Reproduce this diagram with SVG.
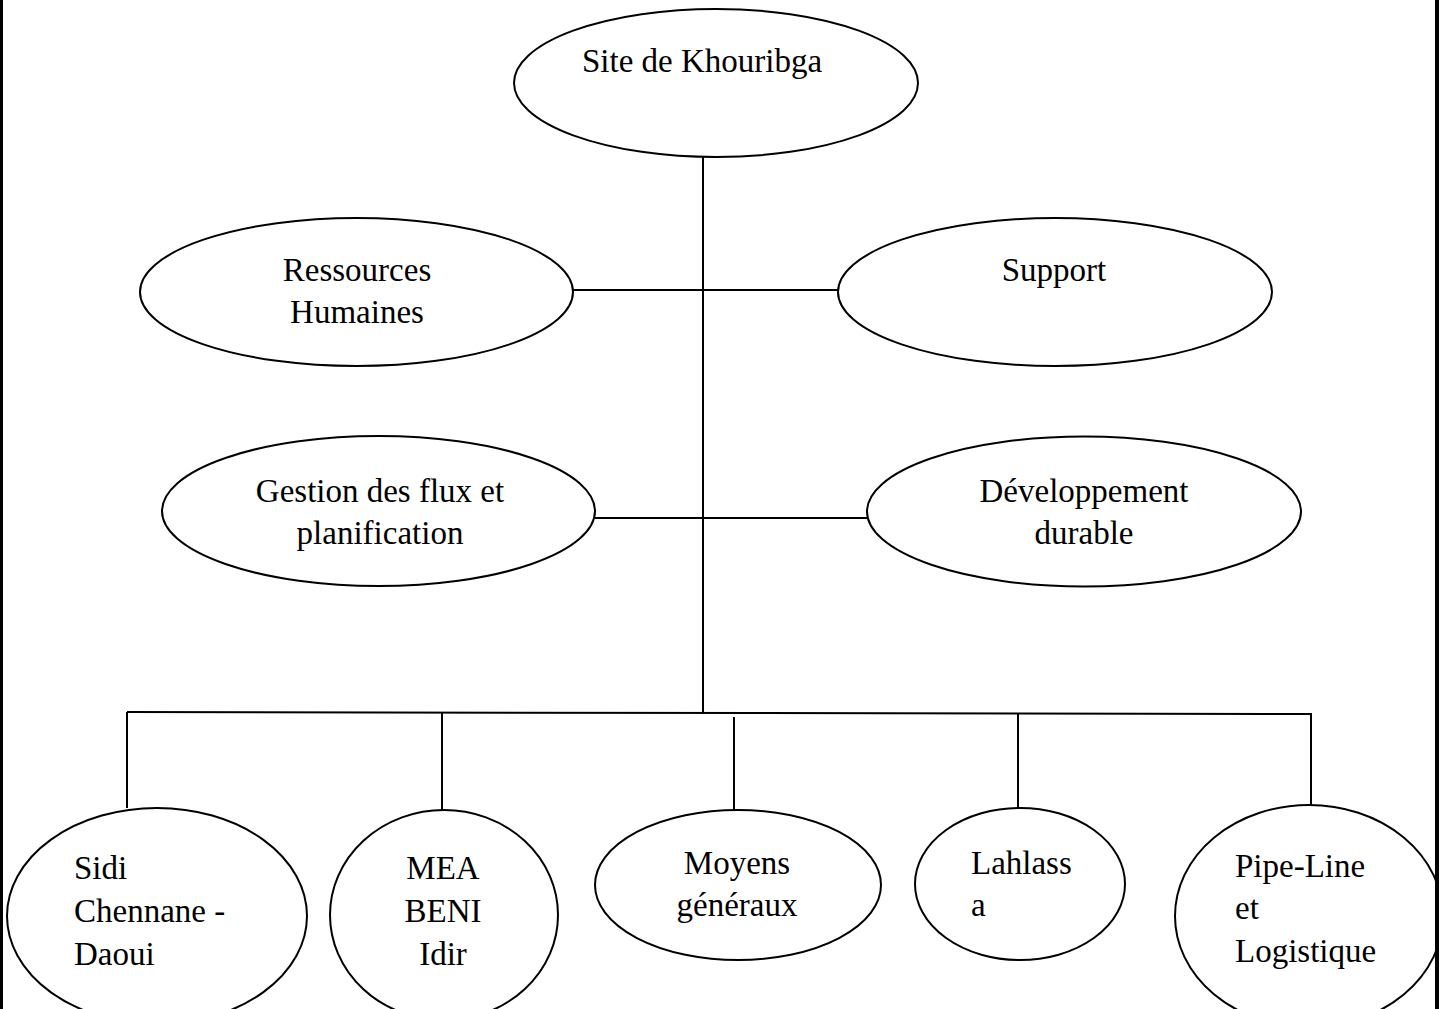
<svg xmlns="http://www.w3.org/2000/svg" width="1445" height="1009" viewBox="0 0 1445 1009">
  <style>
    .node ellipse { fill: #ffffff; stroke: #000000; stroke-width: 2; }
    .node text { font-family: "Liberation Serif", "Times New Roman", serif; font-size: 33px; fill: #000000; }
    .c { text-anchor: middle; }
    #connectors line { stroke: #000000; stroke-width: 2; fill: none; }
    .frame { fill: #000000; }
  </style>
  <rect width="1445" height="1009" fill="#ffffff"/>

  <!-- connectors -->
  <g id="connectors">
    <line x1="703" y1="157" x2="703" y2="714"/>
    <line x1="573" y1="290" x2="839" y2="290"/>
    <line x1="595" y1="518" x2="869" y2="518"/>
    <line x1="127" y1="712" x2="1312" y2="714"/>
    <line x1="127" y1="712" x2="127" y2="808"/>
    <line x1="442" y1="713" x2="442" y2="810"/>
    <line x1="734" y1="717" x2="734" y2="810"/>
    <line x1="1018" y1="713" x2="1018" y2="808"/>
    <line x1="1311" y1="713" x2="1311" y2="805"/>
  </g>

  <!-- top -->
  <g id="site-khouribga" class="node">
    <ellipse cx="716" cy="83" rx="202" ry="74"/>
    <text class="c" x="702" y="72">Site de Khouribga</text>
  </g>

  <!-- first row -->
  <g id="ressources-humaines" class="node">
    <ellipse cx="356.5" cy="292" rx="216.5" ry="74"/>
    <text class="c" x="357" y="281">Ressources</text>
    <text class="c" x="357" y="323">Humaines</text>
  </g>
  <g id="support" class="node">
    <ellipse cx="1055" cy="292" rx="217" ry="74"/>
    <text class="c" x="1054" y="281">Support</text>
  </g>

  <!-- second row -->
  <g id="gestion-flux" class="node">
    <ellipse cx="378.5" cy="511" rx="216.5" ry="75"/>
    <text class="c" x="380" y="502">Gestion des flux et</text>
    <text class="c" x="380" y="544">planification</text>
  </g>
  <g id="developpement-durable" class="node">
    <ellipse cx="1084" cy="511.5" rx="217" ry="75"/>
    <text class="c" x="1084" y="502">Développement</text>
    <text class="c" x="1084" y="544">durable</text>
  </g>

  <!-- bottom row -->
  <g id="sidi-chennane" class="node">
    <ellipse cx="157" cy="916" rx="150" ry="108"/>
    <text x="74" y="879">Sidi</text>
    <text x="74" y="922">Chennane -</text>
    <text x="74" y="965">Daoui</text>
  </g>
  <g id="mea-beni-idir" class="node">
    <ellipse cx="444" cy="915" rx="114" ry="105"/>
    <text class="c" x="443" y="879">MEA</text>
    <text class="c" x="443" y="922">BENI</text>
    <text class="c" x="443" y="965">Idir</text>
  </g>
  <g id="moyens-generaux" class="node">
    <ellipse cx="738" cy="885" rx="143" ry="75"/>
    <text class="c" x="737" y="874">Moyens</text>
    <text class="c" x="737" y="916">généraux</text>
  </g>
  <g id="lahlassa" class="node">
    <ellipse cx="1020" cy="884" rx="105" ry="76"/>
    <text x="971" y="874">Lahlass</text>
    <text x="971" y="916">a</text>
  </g>
  <g id="pipe-line" class="node">
    <ellipse cx="1309" cy="916" rx="134" ry="111"/>
    <text x="1235" y="877">Pipe-Line</text>
    <text x="1235" y="919">et</text>
    <text x="1235" y="962">Logistique</text>
  </g>

  <!-- page frame edges -->
  <rect class="frame" x="0" y="0" width="3" height="1009"/>
  <rect class="frame" x="1435" y="0" width="4" height="1009"/>
  <rect x="1439" y="0" width="6" height="1009" fill="#ffffff"/>
</svg>
